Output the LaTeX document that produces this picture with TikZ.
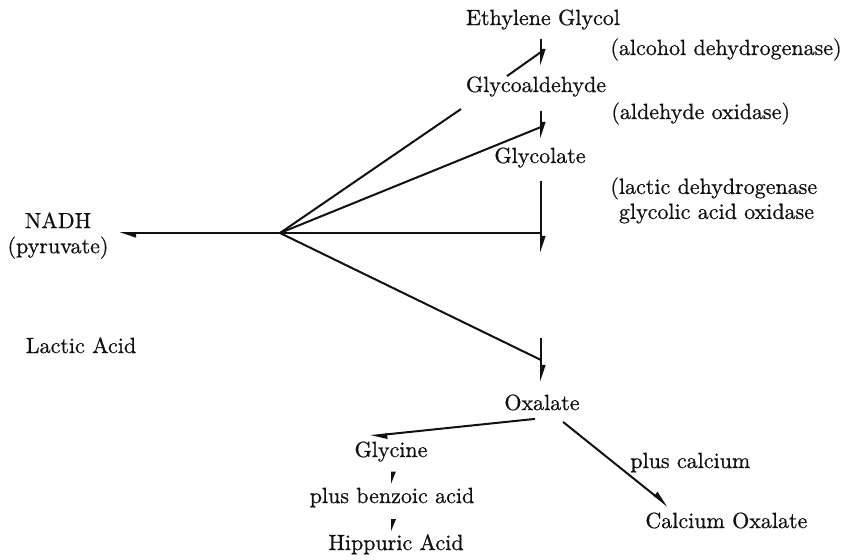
\documentclass[tikz,border=0pt]{standalone}
\usepackage{fontspec}
\usepackage{tikz}
\usetikzlibrary{arrows.meta,calc}
\newfontfamily\scanfont{lmroman10-regular}[Extension=.otf,FakeBold=0.7]
\definecolor{ink}{HTML}{111111}

\begin{document}
\begin{tikzpicture}[x=0.5pt,y=-0.5pt]
    \tikzset{
      chem/.style={inner sep=0pt,font=\scanfont\fontsize{11}{12.5}\selectfont,text=ink},
      note/.style={chem,align=left},
      link/.style={draw=ink,line width=1pt},
      arrow/.style={link,-{Triangle[harpoon,length=7pt,width=4.4pt]}},
      tick/.style={link,-{Triangle[harpoon,length=5pt,width=3.6pt]}}
    }
    \useasboundingbox (0,0) rectangle (845,559);
    % main column
    \node[chem,anchor=base] (eg) at (543,25) {Ethylene Glycol};
    \node[chem,anchor=base] (ga) at (536,92) {Glycoaldehyde};
    \node[chem,anchor=base] (gl) at (540,163) {Glycolate};
    \node[chem,anchor=base] (ox) at (542,410) {Oxalate};
    % enzymes
    \node[chem,anchor=base west] (adh) at (610,55) {(alcohol dehydrogenase)};
    \node[chem,anchor=base west] (ado) at (611,119) {(aldehyde oxidase)};
    \node[note,anchor=north west] (ldh) at (610,177) {(lactic dehydrogenase\\\phantom{(}glycolic acid oxidase};
    % left side
    \node[chem,align=center,anchor=north] (nadh) at (58,212) {NADH\\(pyruvate)};
    \node[chem,anchor=base] (lac) at (81,353) {Lactic Acid};
    % lower branch
    \node[chem,anchor=base] (gly) at (391,457) {Glycine};
    \node[chem,anchor=base] (bz) at (392,503) {plus benzoic acid};
    \node[chem,anchor=base] (hip) at (396,550) {Hippuric Acid};
    \node[chem,anchor=base west] (pca) at (630,468) {plus calcium};
    \node[chem,anchor=base west] (cox) at (645,528) {Calcium Oxalate};
    % junctions
    \coordinate (axis) at (541,0);
    \coordinate (hub) at (280,233);
    \coordinate (f1) at (461,109);
    \coordinate (j1) at (541,52);
    \coordinate (j2) at (541,127);
    \coordinate (j3) at (541,233);
    \coordinate (j4) at (541,360);
    \coordinate (gap1) at (541,253);
    \coordinate (gap2) at (541,338);
    \draw[arrow,shorten <=4.5pt,shorten >=5pt] (eg.south -| axis) -- (ga.north -| axis);
    \draw[arrow,shorten <=7pt,shorten >=4pt] (ga.south -| axis) -- (gl.north -| axis);
    \draw[arrow,shorten <=6.5pt] (gl.south -| axis) -- (gap1);
    \draw[arrow,shorten >=6pt] (gap2) -- (ox.north -| axis);
    \draw[link] ([xshift=-14.5pt]ga.north) -- (j1);
    \draw[link] (hub) -- (f1);
    \draw[link] (hub) -- (j2);
    \draw[link] (hub) -- (j3);
    \draw[link] (hub) -- (j4);
    \draw[arrow,shorten >=5pt] (hub) -- (hub -| nadh.east);
    \draw[arrow] ([shift={(-7,8)}]ox.south) -- ([shift={(-21,-5)}]gly.north);
    \draw[arrow] ([shift={(-17,11)}]ox.south east) -- ([shift={(23,-6)}]cox.north west);
    \draw[tick,shorten <=6pt,shorten >=1.5pt] (bz.north |- gly.south) -- (bz.north);
    \draw[tick,shorten <=6.5pt,shorten >=1pt] (bz.south) -- (hip.north -| bz.south);
  \end{tikzpicture}
\end{document}
